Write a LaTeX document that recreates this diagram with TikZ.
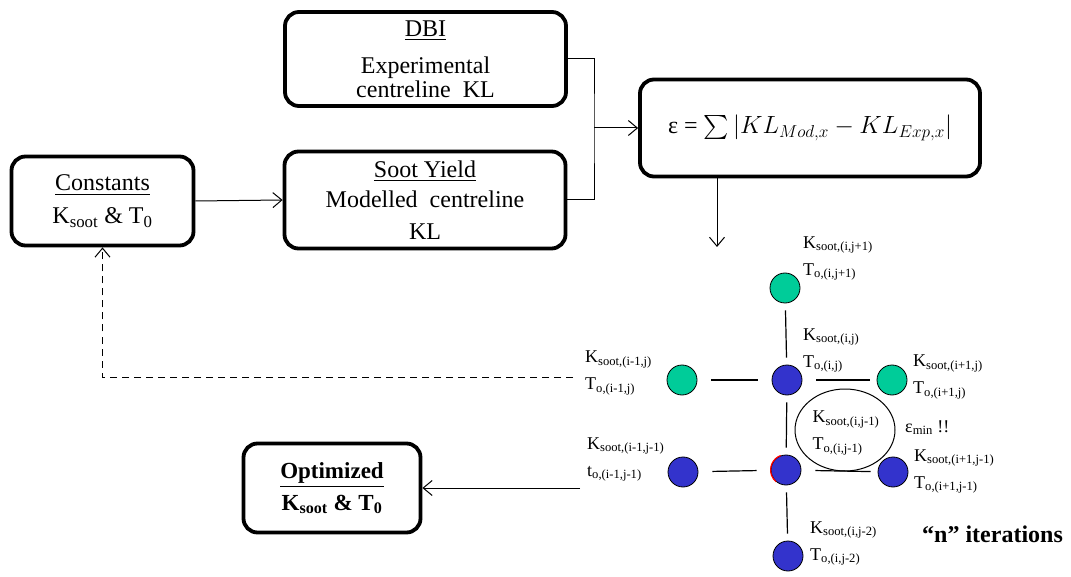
\documentclass[tikz,border=0pt]{standalone}
\usepackage{amsmath}
\usepackage{amssymb}
\usepackage{fontspec}
\setmainfont{Liberation Serif}
\usetikzlibrary{arrows.meta}
\definecolor{sitegreen}{RGB}{0,204,153}
\definecolor{siteblue}{RGB}{51,51,204}
\newcommand{\ks}[1]{K\textsubscript{soot,#1}}
\newcommand{\tos}[1]{T\textsubscript{o,#1}}
\tikzset{
    block/.style={
           rectangle,
           rounded corners=14pt,
           draw=black, line width=3.8pt,
           inner sep=2pt,
           align=center,
           font=\fontsize{24}{30}\selectfont,
           },
    site/.style={circle, draw=black, line width=0.8pt, minimum size=30pt, inner sep=0pt},
    sitelabel/.style={anchor=west, inner sep=0pt, align=left, font=\fontsize{18}{27}\selectfont},
    flow/.style={line width=1pt, -{Straight Barb[length=9pt,width=15pt]}},
    hlink/.style={line width=1.2pt, shorten <=14pt, shorten >=14pt},
    vlink/.style={line width=1.2pt, shorten <=7pt, shorten >=7pt},
}

\begin{document}
\begin{tikzpicture}[x=1pt,y=-1pt]
    \useasboundingbox (0,0) rectangle (1071,577);

    % boxes of the fitting loop
    \node[block, minimum width=281, minimum height=94] (dbi) at (425.5,59)
        {\underline{DBI}\\[7pt] Experimental\\[-6pt] centreline~~KL};
    \node[block, minimum width=281, minimum height=97] (soot) at (425,200)
        {\underline{Soot Yield}\\ Modelled~~centreline\\[2pt] KL};
    \node[block, minimum width=182, minimum height=89] (const) at (102.5,201)
        {\underline{Constants}\\[3pt] K\textsubscript{soot} \& T\textsubscript{0}};
    \node[block, minimum width=340, minimum height=97] (eps) at (810,128)
        {ε = $\textstyle\sum\left|KL_{Mod,x}-KL_{Exp,x}\right|$};
    \node[block, minimum width=177, minimum height=89,
        font=\fontsize{23}{32}\selectfont\bfseries] (opt) at (332,488)
        {\underline{Optimized}\\ K\textsubscript{soot} \& T\textsubscript{0}};

    % free ends of the connectors
    \coordinate (join) at (594,128);
    \coordinate (epsdown) at (717,247);
    \coordinate (back) at (573,377);
    \coordinate (done) at (580,488);

    \draw[line width=1pt] (dbi.east) -| (join) |- (soot.east);
    \draw[flow] (join) -- (eps.west);
    \draw[flow] (const.east) -- (soot.west);
    \draw[flow] (epsdown |- eps.south) -- (epsdown);
    \draw[flow, dash pattern=on 7pt off 5pt] (back) -| (const.south);
    \draw[flow] (done) -- (opt.east);

    % grid of trial constants
    \node[site, fill=sitegreen] (up) at (785,288) {};
    \node[site, fill=sitegreen] (west) at (682,380) {};
    \node[site, fill=siteblue]  (mid) at (787,380) {};
    \node[site, fill=sitegreen] (east) at (892,380) {};
    \node[site, fill=siteblue]  (lowwest) at (683,472) {};
    \node[site, fill=siteblue]  (low) at (786,470) {};
    \node[site, fill=siteblue]  (loweast) at (893,472) {};
    \node[site, fill=siteblue]  (down) at (788,556) {};
    \draw[red, line width=1.2pt] (low.110) arc[start angle=110, end angle=230, radius=15.4pt];

    \path
        (up)      edge[vlink] (mid)
        (west)    edge[hlink] (mid)
        (mid)     edge[hlink, shorten >=7pt] (east)
        (mid)     edge[vlink] (low)
        (lowwest) edge[hlink] (low)
        (low)     edge[hlink, shorten >=7pt] (loweast)
        (low)     edge[vlink] (down);

    % labels of the sites
    \node[sitelabel] (lup) at (803,258.5) {\ks{(i,j+1)}\\ \tos{(i,j+1)}};
    \node[sitelabel] (lmid) at (803,350.5) {\ks{(i,j)}\\ \tos{(i,j)}};
    \node[sitelabel] (lwest) at (585,373) {\ks{(i-1,j)}\\ \tos{(i-1,j)}};
    \node[sitelabel] (least) at (913,377) {\ks{(i+1,j)}\\ \tos{(i+1,j)}};
    \node[sitelabel] (lloweast) at (914,471.5) {\ks{(i+1,j-1)}\\ \tos{(i+1,j-1)}};
    \node[sitelabel] (llowwest) at (587,459.5) {\ks{(i-1,j-1)}\\ t\textsubscript{o,(i-1,j-1)}};
    \node[sitelabel] (ldown) at (810,543.5) {\ks{(i,j-2)}\\ \tos{(i,j-2)}};
    \node[sitelabel, anchor=center] (best) at (846,433) {\ks{(i,j-1)}\\ \tos{(i,j-1)}};
    \draw[line width=1pt] (845,430) ellipse[x radius=50, y radius=41];
    \node[anchor=base west, inner sep=0pt, font=\fontsize{18}{18}\selectfont] (emin) at (905,432)
        {ε\textsubscript{min} !!};
    \node[anchor=base west, inner sep=0pt, font=\fontsize{24}{24}\selectfont\bfseries] (iter) at (922,542)
        {“n” iterations};
\end{tikzpicture}
\end{document}
